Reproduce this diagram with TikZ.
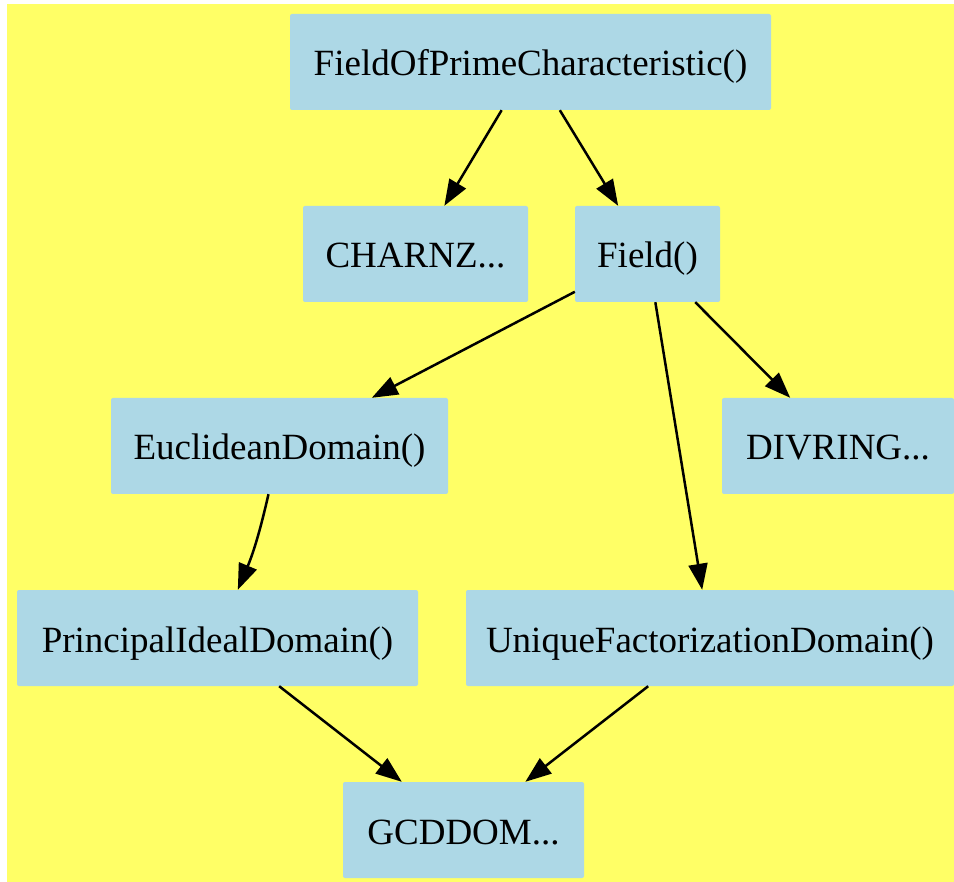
\documentclass[tikz,border=0pt]{standalone}
\usepackage{fontspec}
\setmainfont{Liberation Serif}
\usepackage{xcolor}
\definecolor{catyellow}{HTML}{FFFF66}
\definecolor{catblue}{HTML}{ADD8E6}
\usetikzlibrary{arrows.meta}

\begin{document}
\begin{tikzpicture}[x=1pt, y=-1pt,
  cat/.style={fill=catblue, rounded corners=2pt, minimum height=96pt,
    inner sep=0pt, text height=28pt, text depth=0pt,
    font=\fontsize{37}{40}\selectfont},
  isa/.style={-{Triangle[length=26pt, width=19pt]}, line width=2.5pt}
]
\useasboundingbox (0,0) rectangle (954,882);
\fill[catyellow] (7,4) rectangle (954,882);
\node[cat, minimum width=481pt] (FOPC) at (530.5,62) {FieldOfPrimeCharacteristic()};
\node[cat, minimum width=225pt] (CHARNZ) at (415.5,254) {CHARNZ...};
\node[cat, minimum width=145pt] (Field) at (647.5,254) {Field()};
\node[cat, minimum width=337pt] (Euclid) at (279.5,446) {EuclideanDomain()};
\node[cat, minimum width=232pt] (DIVRING) at (838,446) {DIVRING...};
\node[cat, minimum width=401pt] (PID) at (217.5,638) {PrincipalIdealDomain()};
\node[cat, minimum width=488pt] (UFD) at (710,638) {UniqueFactorizationDomain()};
\node[cat, minimum width=241pt] (GCD) at (463.5,830) {GCDDOM...};
\draw[isa] (FOPC) -- (CHARNZ);
\draw[isa] (FOPC) -- (Field);
\draw[isa] (Field) -- (Euclid);
\draw[isa] (Field) -- (UFD);
\draw[isa] (Field) -- (DIVRING);
\draw[isa] (Euclid) to[bend left=5] (PID);
\draw[isa] (PID) -- (GCD);
\draw[isa] (UFD) -- (GCD);
\end{tikzpicture}
\end{document}
